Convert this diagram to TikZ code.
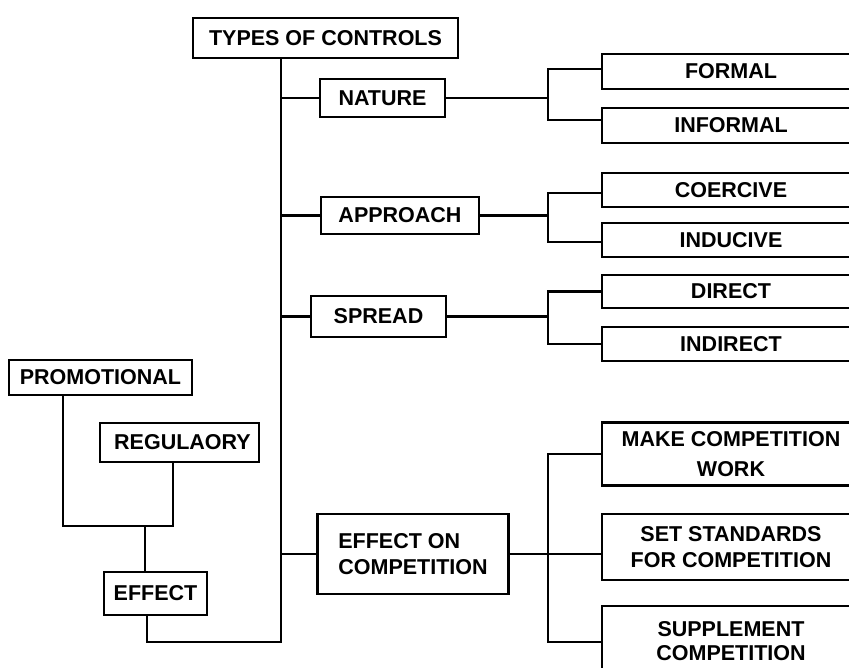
\documentclass[tikz,border=0pt]{standalone}
\usepackage{fontspec}
\setmainfont{Liberation Sans}
\begin{document}
\begin{tikzpicture}[x=1pt,y=-1pt,
  line width=2.8pt, line join=miter,
  lbl/.style={font=\fontsize{21.5}{26}\selectfont\bfseries, align=center, inner sep=0pt},
  box/.style={lbl, draw, line width=2.8pt},
  rbox/.style={box, minimum width=258pt}]
\useasboundingbox (0,0) rectangle (849,668);

% root and main branches
\node[box, minimum width=265pt, minimum height=40pt] (types) at (325.5,38) {TYPES OF CONTROLS};
\node[box, minimum width=125pt, minimum height=38pt] (nature) at (382.5,98) {NATURE};
\node[box, minimum width=158pt, minimum height=37pt] (approach) at (400,215.5) {APPROACH};
\node[box, minimum width=135pt, minimum height=41pt] (spread) at (378.5,316.5) {SPREAD};
\node[box, minimum width=191pt, minimum height=80pt, align=left] (effcomp) at (413,554) {EFFECT ON\\COMPETITION};

% leaves on the right
\node[rbox, minimum height=35pt] (formal) at (731,71.5) {FORMAL};
\node[rbox, minimum height=35pt] (informal) at (731,125.5) {INFORMAL};
\node[rbox, minimum height=34pt] (coercive) at (731,190) {COERCIVE};
\node[rbox, minimum height=34pt] (inducive) at (731,240) {INDUCIVE};
\node[rbox, minimum height=33pt] (direct) at (731,291.5) {DIRECT};
\node[rbox, minimum height=34pt] (indirect) at (731,344) {INDIRECT};
\node[rbox, minimum height=63pt] (make) at (731,454) {MAKE COMPETITION\\[4pt]WORK};
\node[rbox, minimum height=66pt] (set) at (731,547) {SET STANDARDS\\FOR COMPETITION};
\node[rbox, minimum height=94pt] (supp) at (731,653) {};
\node[lbl] (supptext) at (731,641) {SUPPLEMENT\\[-2pt]COMPETITION};

% effect group on the left
\node[box, minimum width=183pt, minimum height=35pt] (promo) at (100.5,377.5) {PROMOTIONAL};
\node[box, minimum width=159pt, minimum height=39pt] (regul) at (179.5,442.5) {\hspace*{6pt}REGULAORY};
\node[box, minimum width=103pt, minimum height=43pt] (effect) at (155.5,593.5) {EFFECT};

% junction points
\coordinate (tkbot) at (281,642);
\coordinate (lj) at (145,526);
\coordinate (b1) at (548,98);
\coordinate (b2) at (548,215.5);
\coordinate (b3) at (548,316.5);
\coordinate (b4bot) at (548,642);

% trunk and its branches
\draw (types.south -| tkbot) -- (tkbot) -| ([xshift=-8.5pt]effect.south);
\draw (nature.west -| tkbot) -- (nature.west);
\draw (approach.west -| tkbot) -- (approach.west);
\draw (spread.west -| tkbot) -- (spread.west);
\draw (effcomp.west -| tkbot) -- (effcomp.west);

% left group
\draw ([xshift=-37.5pt]promo.south) |- (lj) -| ([xshift=-6.5pt]regul.south);
\draw (lj) -- (lj |- effect.north);

% brackets to the leaves
\draw (nature.east) -- (b1);
\draw ([yshift=2.5pt]formal.west) -| (b1) |- ([yshift=5.5pt]informal.west);
\draw (approach.east) -- (b2);
\draw ([yshift=-3pt]coercive.west) -| (b2) |- ([yshift=-2pt]inducive.west);
\draw (spread.east) -- (b3);
\draw (direct.west) -| (b3) |- (indirect.west);
\draw (effcomp.east) -- (effcomp.east -| set.west);
\draw (make.west) -| (b4bot) -- (b4bot -| supp.west);
\end{tikzpicture}
\end{document}
